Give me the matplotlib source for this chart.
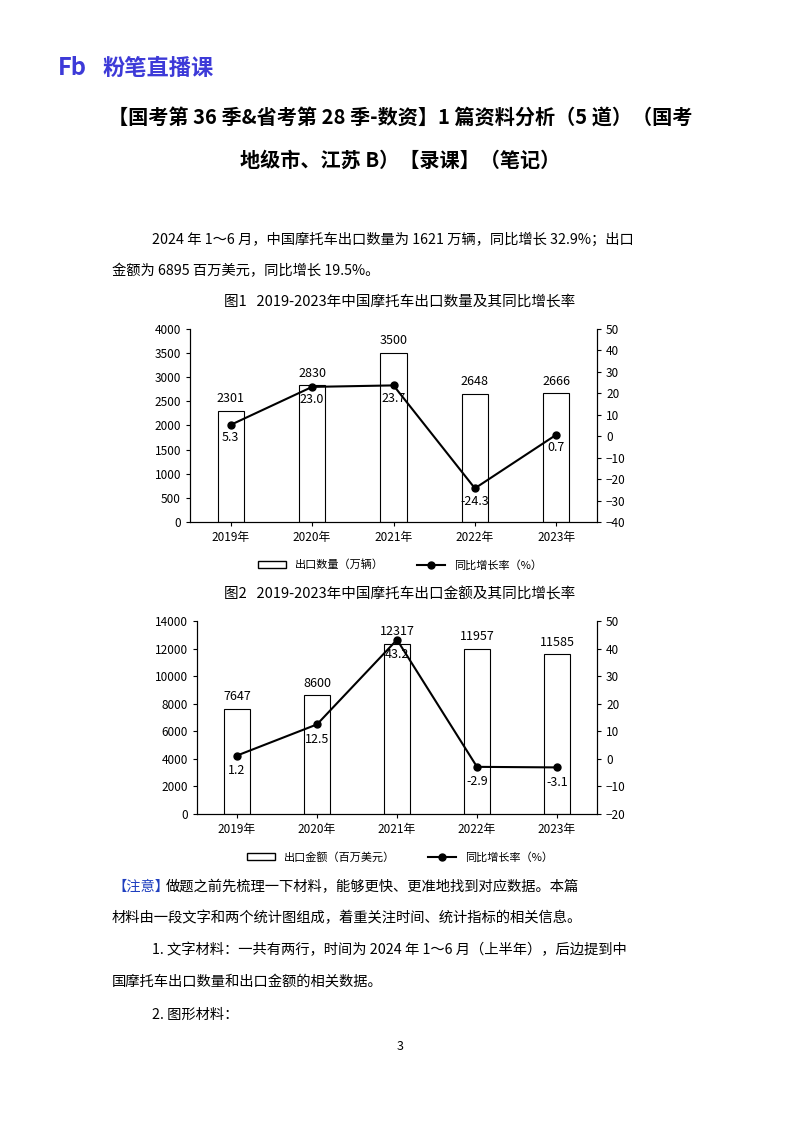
import matplotlib
matplotlib.use("Agg")
import matplotlib.pyplot as plt
from matplotlib.lines import Line2D
from matplotlib.patches import Patch
import numpy as np

plt.rcParams['font.family'] = ['Noto Sans CJK SC', 'DejaVu Sans']

years = ["2019年", "2020年", "2021年", "2022年", "2023年"]
qty = [2301, 2830, 3500, 2648, 2666]
qty_rate = [5.3, 23.0, 23.7, -24.3, 0.7]
amt = [7647, 8600, 12317, 11957, 11585]
amt_rate = [1.2, 12.5, 43.2, -2.9, -3.1]

W, H = 800, 1132
fig = plt.figure(figsize=(8, 11.32), dpi=100)

def T(x, y, s, **kw):
    fig.text(x / W, 1 - y / H, s, **kw)

T(58, 68, "Fb", fontsize=17, fontweight='bold', color='#3d3ad8', va='center')
T(102, 68, "粉笔直播课", fontsize=16, fontweight='bold', color='#3d3ad8', va='center')
T(400, 118, "【国考第 36 季&省考第 28 季-数资】1 篇资料分析（5 道）（国考", fontsize=14.5, fontweight='bold', ha='center', va='center')
T(400, 160, "地级市、江苏 B）【录课】（笔记）", fontsize=14.5, fontweight='bold', ha='center', va='center')
fs = 10.3
T(152, 240, "2024 年 1～6 月，中国摩托车出口数量为 1621 万辆，同比增长 32.9%；出口", fontsize=fs, va='center')
T(112, 271, "金额为 6895 百万美元，同比增长 19.5%。", fontsize=fs, va='center')
T(400, 301, "图1   2019-2023年中国摩托车出口数量及其同比增长率", fontsize=10.5, ha='center', va='center')
T(400, 594, "图2   2019-2023年中国摩托车出口金额及其同比增长率", fontsize=10.5, ha='center', va='center')
T(112, 887, "【注意】", fontsize=fs, color='#1f3fbf', va='center')
T(166, 887, "做题之前先梳理一下材料，能够更快、更准地找到对应数据。本篇", fontsize=fs, va='center')
T(112, 918, "材料由一段文字和两个统计图组成，着重关注时间、统计指标的相关信息。", fontsize=fs, va='center')
T(152, 950, "1. 文字材料：一共有两行，时间为 2024 年 1～6 月（上半年），后边提到中", fontsize=fs, va='center')
T(112, 982, "国摩托车出口数量和出口金额的相关数据。", fontsize=fs, va='center')
T(152, 1015, "2. 图形材料：", fontsize=fs, va='center')
T(400, 1046, "3", fontsize=9, ha='center', va='center')

def chart(top, bottom, left, right, vals, rates, ylim, yt, rlim, rt, lab_off, legend_y, legend_label):
    ax = fig.add_axes([left / W, 1 - bottom / H, (right - left) / W, (bottom - top) / H])
    x = np.arange(len(vals))
    ax.bar(x, vals, width=0.32, facecolor='white', edgecolor='black', linewidth=0.8)
    ax.set_ylim(*ylim); ax.set_yticks(yt)
    ax.set_xlim(-0.5, len(vals) - 0.5)
    ax.set_xticks(x); ax.set_xticklabels(years)
    ax.tick_params(labelsize=8.5, length=3)
    for i, v in enumerate(vals):
        ax.text(i, v + (ylim[1]) * 0.03, str(v), ha='center', va='bottom', fontsize=9)
    ax2 = ax.twinx()
    ax2.plot(x, rates, color='black', marker='o', markersize=5, linewidth=1.5)
    ax2.set_ylim(*rlim); ax2.set_yticks(rt)
    ax2.tick_params(labelsize=8.5, length=3)
    for i, r in enumerate(rates):
        ax2.text(i, r - lab_off, f"{r:.1f}", ha='center', va='top', fontsize=9)
    for a in (ax, ax2):
        a.spines['top'].set_visible(False)
    handles = [Patch(facecolor='white', edgecolor='black', label=legend_label),
               Line2D([0], [0], color='black', marker='o', markersize=5, label='同比增长率（%）')]
    fig.legend(handles=handles, loc='center', bbox_to_anchor=(400 / W, 1 - legend_y / H),
               ncol=2, frameon=False, fontsize=8, columnspacing=3, handlelength=2.5)

chart(329, 522, 190, 597, qty, qty_rate, (0, 4000), range(0, 4001, 500), (-40, 50), range(-40, 51, 10), 3, 565, '出口数量（万辆）')
chart(621, 814, 197, 597, amt, amt_rate, (0, 14000), range(0, 14001, 2000), (-20, 50), range(-20, 51, 10), 3, 857, '出口金额（百万美元）')

fig.savefig("out.png", dpi=100)
